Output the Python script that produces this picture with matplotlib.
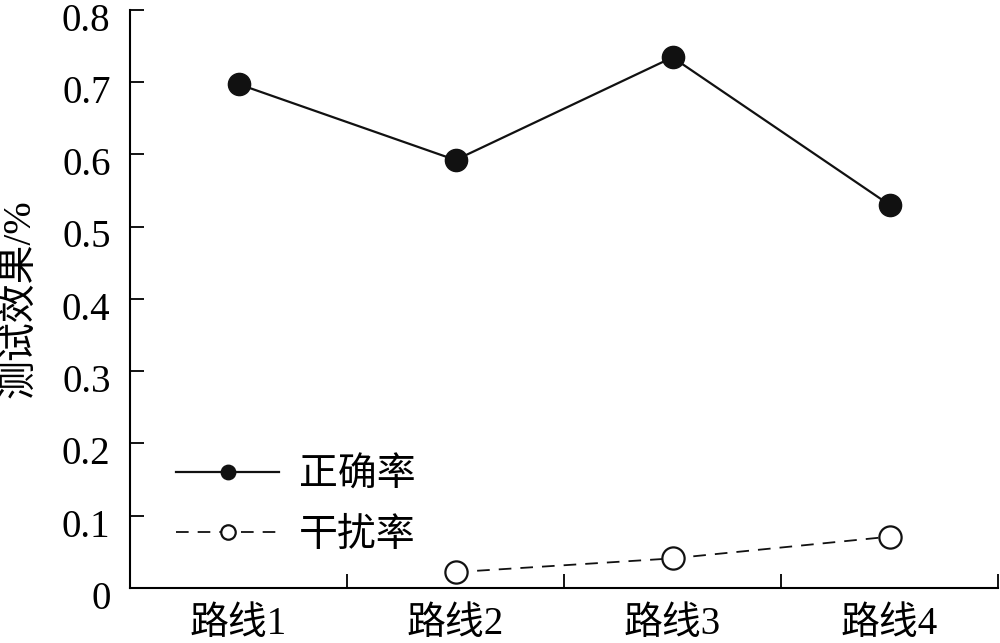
import numpy as np
import matplotlib
matplotlib.use('Agg')
import matplotlib.pyplot as plt
import matplotlib.transforms as mtransforms

plt.rcParams['font.family'] = ['Liberation Serif', 'Noto Sans CJK SC', 'DejaVu Sans']

# ================= 数据 =================
routes = ['路线1', '路线2', '路线3', '路线4']
accuracy = [0.697, 0.592, 0.734, 0.530]          # 正确率
interference = [np.nan, 0.022, 0.041, 0.071]     # 干扰率（路线1无数据）
y_ticks = [0, 0.1, 0.2, 0.3, 0.4, 0.5, 0.6, 0.7, 0.8]
y_tick_labels = ['0', '0.1', '0.2', '0.3', '0.4', '0.5', '0.6', '0.7', '0.8']

FS = 28

# ================= 绘图 =================
fig = plt.figure(figsize=(10, 6.43), dpi=100)
ax = fig.add_axes([0.13, 0.0855, 0.868, 0.8995])

x = np.arange(len(routes))
ax.plot(x, accuracy, color='#111111', linewidth=1.6, marker='o', markersize=16,
        markerfacecolor='#111111', markeredgecolor='#111111', label='正确率')
ax.plot(x, interference, color='#111111', linewidth=1.3, linestyle=(0, (7, 5)),
        marker='o', markersize=16, markerfacecolor='white', markeredgecolor='#111111',
        markeredgewidth=1.6, label='干扰率')

ax.set_xlim(-0.5, 3.5)
ax.set_ylim(0, 0.8)
ax.set_yticks(y_ticks)
ax.set_yticklabels(y_tick_labels)
ax.set_xticks([0.5, 1.5, 2.5, 3.5])
ax.set_xticklabels([])
ax.set_xticks(x, minor=True)
ax.set_xticklabels(routes, minor=True)

ax.tick_params(axis='y', direction='in', length=10, width=1.3, labelsize=FS, pad=14)
ax.tick_params(axis='x', which='major', direction='in', length=10, width=1.3)
ax.tick_params(axis='x', which='minor', length=0, labelsize=FS, pad=13)

# 纵轴刻度文字略向下偏移
shift = mtransforms.ScaledTranslation(0, -5 / 72, fig.dpi_scale_trans)
for lab in ax.get_yticklabels():
    lab.set_transform(lab.get_transform() + shift)

for s in ['top', 'right']:
    ax.spines[s].set_visible(False)
for s in ['left', 'bottom']:
    ax.spines[s].set_linewidth(1.5)

ax.set_ylabel('测试效果/%', fontsize=FS)
ax.yaxis.set_label_coords(-0.104, 0.5)

ax.legend(loc='lower left', bbox_to_anchor=(0.022, 0.01), frameon=False, fontsize=FS,
          markerscale=0.65, handlelength=2.65, handletextpad=0.5, labelspacing=0.6,
          borderpad=0.2)

fig.savefig('out.png', dpi=100)
